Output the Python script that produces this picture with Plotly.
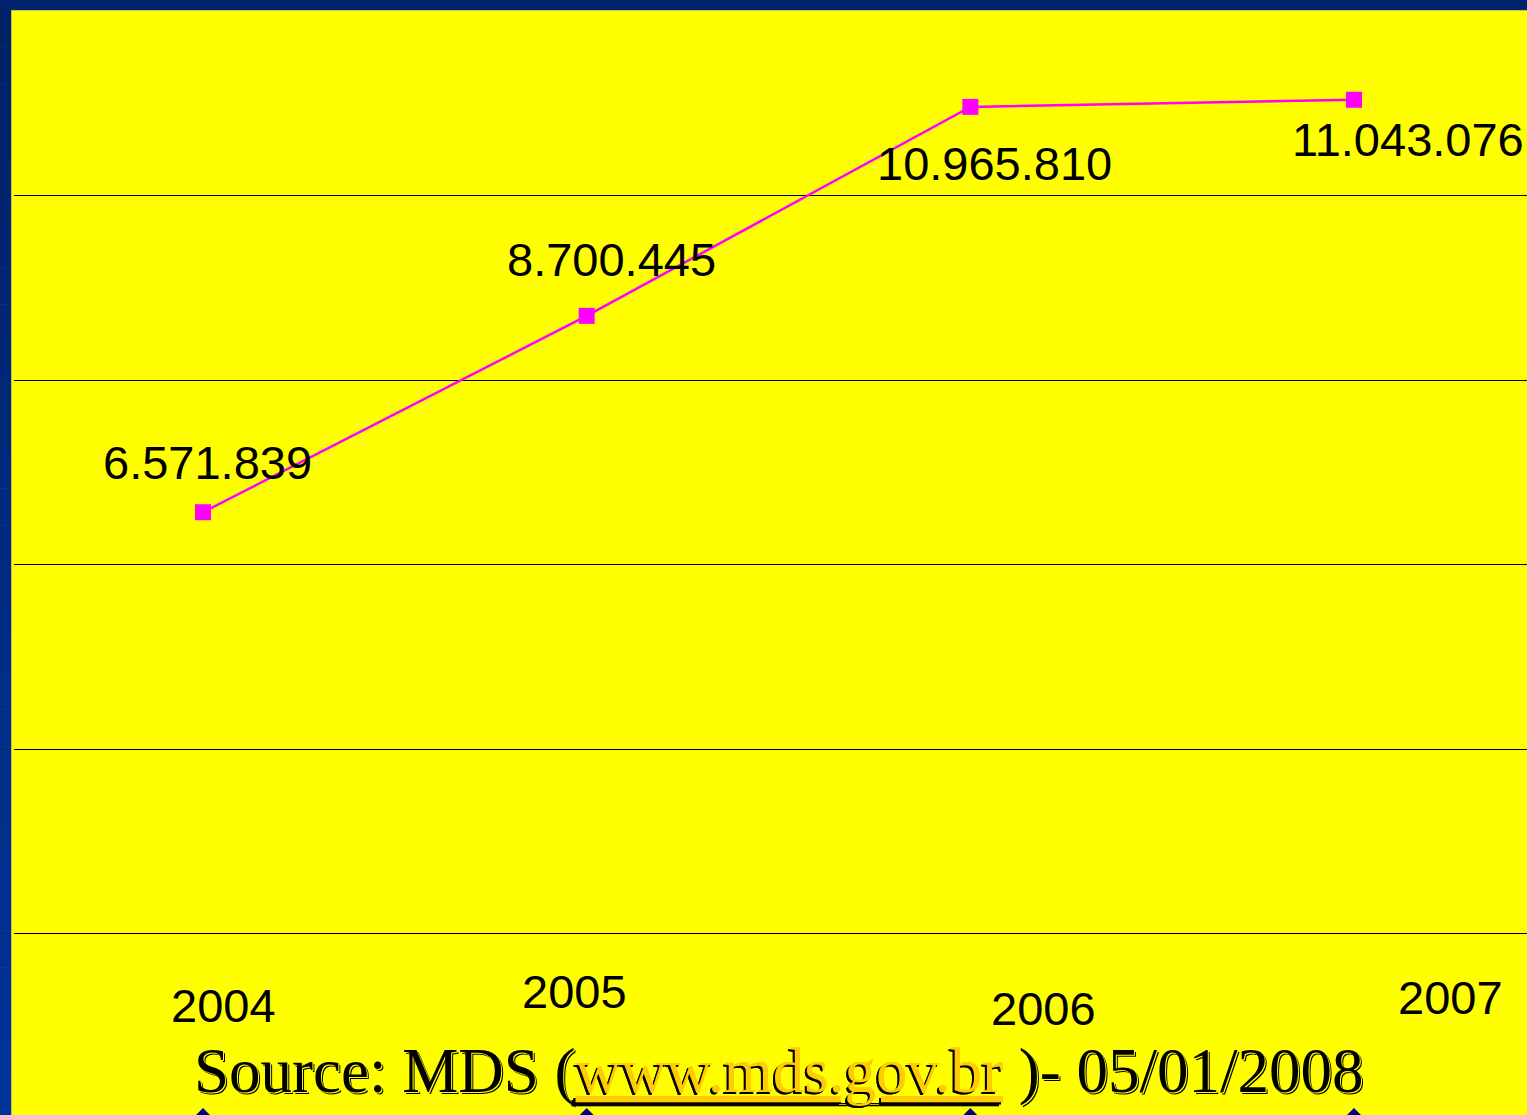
import plotly.graph_objects as go

# ---- data ----
years = ["2004", "2005", "2006", "2007"]
families = [6571839, 8700445, 10965810, 11043076]
second_series = [0, 0, 0, 0]
grid_values = [2000000, 4000000, 6000000, 8000000, 10000000]
source_prefix = "Source: MDS ("
source_link = "www.mds.gov.br"
source_suffix = " )- 05/01/2008"

W, H = 1527, 1115
ML, MT = 14, 10
PW, PH = W - ML, H - MT

xs = list(range(len(years)))

fig = go.Figure()
fig.add_trace(go.Scatter(
    x=xs, y=second_series, mode="lines+markers",
    line=dict(color="#000080", width=2.5),
    marker=dict(symbol="diamond", size=16, color="#000080"),
    showlegend=False, hoverinfo="skip"))
fig.add_trace(go.Scatter(
    x=xs, y=families, mode="lines+markers",
    line=dict(color="#FF00FF", width=2.5),
    marker=dict(symbol="square", size=16, color="#FF00FF"),
    showlegend=False, hoverinfo="skip"))

def fmt(v):
    return f"{v:,}".replace(",", ".")

# data labels (offsets in px)
label_offsets = [(4, 50), (25, 56), (24, -57), (54, -40)]
for i, v in enumerate(families):
    dx, dy = label_offsets[i]
    fig.add_annotation(x=xs[i], y=v, xref="x", yref="y", text=fmt(v),
                       showarrow=False, xshift=dx, yshift=dy,
                       xanchor="center", yanchor="middle",
                       font=dict(family="Liberation Sans, Arial", size=47, color="black"))

# year labels (free text boxes on the slide)
year_pos = [(20, 1005), (-12, 991), (73, 1008), (96, 997)]
for i, yr in enumerate(years):
    dx, py = year_pos[i]
    fig.add_annotation(x=xs[i], y=(H - py) / PH, xref="x", yref="paper", text=yr,
                       showarrow=False, xshift=dx, xanchor="center", yanchor="middle",
                       font=dict(family="Liberation Sans, Arial", size=47, color="black"))

# source line with embossed look
src_x = (779 - ML) / PW
src_y = (H - 1071) / PH
src_txt = (f"{source_prefix}<span style='text-decoration:underline;color:#FFCC00;"
           f"text-shadow:-2px 2px 0px #000000'>{source_link}</span>{source_suffix}")
fig.add_annotation(x=src_x, y=src_y, xref="paper", yref="paper", text=src_txt,
                   showarrow=False, xanchor="center", yanchor="middle",
                   font=dict(family="Liberation Serif, Times New Roman", size=63, color="#000000",
                             shadow="1px 1px 0px #FFFF00, 2px 2px 0px #000000"))

# background frame: top band and left band with gradient
shapes = []
shapes.append(dict(type="rect", xref="paper", yref="paper",
                   x0=-ML / PW, x1=1.0, y0=1.0, y1=1 + MT / PH,
                   fillcolor="#00236B", line=dict(width=0), layer="above"))
n = 30
c0 = (0x00, 0x22, 0x66)
c1 = (0x00, 0x34, 0x99)
for k in range(n):
    t = k / (n - 1)
    col = "rgb(%d,%d,%d)" % tuple(int(c0[j] + (c1[j] - c0[j]) * t) for j in range(3))
    y_top = MT + (H - MT) * k / n
    y_bot = MT + (H - MT) * (k + 1) / n
    shapes.append(dict(type="rect", xref="paper", yref="paper",
                       x0=-ML / PW, x1=(11 - ML) / PW,
                       y0=(H - y_bot) / PH, y1=(H - y_top) / PH + 0.0005,
                       fillcolor=col, line=dict(width=0), layer="above"))
# thin border line of the yellow panel
shapes.append(dict(type="line", xref="paper", yref="paper",
                   x0=(11.5 - ML) / PW, x1=(11.5 - ML) / PW, y0=0, y1=1,
                   line=dict(color="#C8C040", width=1), layer="above"))
shapes.append(dict(type="line", xref="paper", yref="paper",
                   x0=(11.5 - ML) / PW, x1=1, y0=1 - 0.5 / PH, y1=1 - 0.5 / PH,
                   line=dict(color="#C8C040", width=1), layer="above"))

x0 = -0.4926
x1 = x0 + PW / 383.67
y_top_val = 12.016e6
y_bot_val = y_top_val - PH / 92.25e-6

fig.update_layout(
    width=W, height=H, autosize=False,
    margin=dict(l=ML, r=0, t=MT, b=0, pad=0),
    paper_bgcolor="#FFFF00", plot_bgcolor="#FFFF00",
    shapes=shapes,
    xaxis=dict(range=[x0, x1], showgrid=False, zeroline=False, showticklabels=False,
               showline=False, ticks=""),
    yaxis=dict(range=[y_bot_val, y_top_val], tickmode="array", tickvals=grid_values,
               showgrid=True, gridcolor="black", gridwidth=1, zeroline=False,
               showticklabels=False, showline=False, ticks=""),
)

fig.write_html("out.html",
               config={"displayModeBar": False},
               post_script="document.body.style.margin='0px';"
                           "document.documentElement.style.overflow='hidden';"
                           "document.body.style.overflow='hidden';")
